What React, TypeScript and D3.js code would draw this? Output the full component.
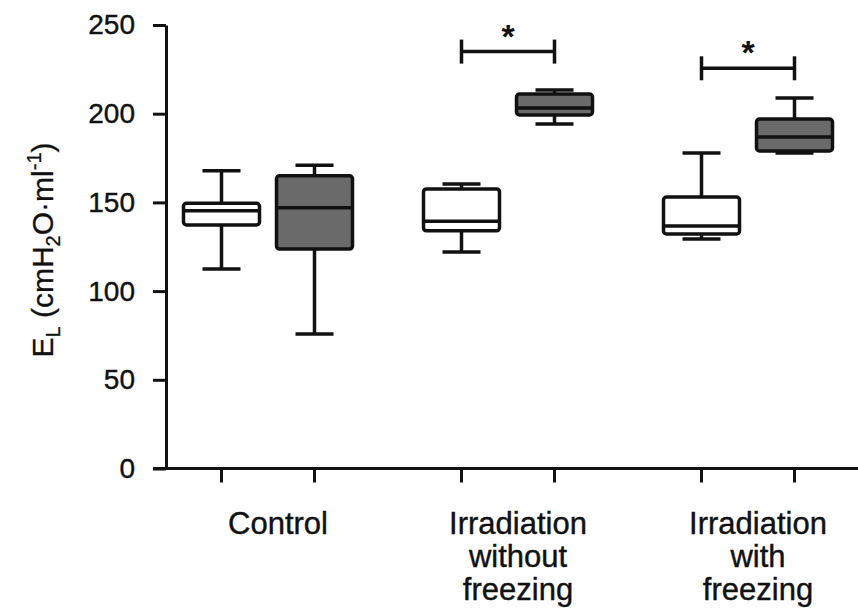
import * as d3 from "d3";
import { useEffect, useRef } from "react";

const GROUPS = ["Control", "Irradiation without freezing", "Irradiation with freezing"];
const GROUP_LINES = [["Control"], ["Irradiation", "without", "freezing"], ["Irradiation", "with", "freezing"]];
const SERIES = ["open", "filled"];

// [low whisker, q1, median, q3, high whisker]
const OPEN_STATS = [
	[112.5, 137.3, 145.3, 149.5, 167.9],
	[122, 134, 139.4, 157.6, 160.4],
	[129.4, 132.2, 136.7, 153, 177.8],
];
const FILLED_STATS = [
	[75.8, 123.7, 147, 165, 171],
	[194.2, 199.3, 203.2, 211.1, 213.4],
	[177.8, 179, 186.9, 197, 208.9],
];

const SIG_GROUPS = [1, 2];
const SIG_LEVELS = [235, 225.6];

const Y_TICKS = [0, 50, 100, 150, 200, 250];

const FILLS = ["#ffffff", "#6a6a6a"];
const INK = "#111";
const FONT = "'Liberation Sans', Arial, sans-serif";

const W = 858;
const H = 609;

const BoxChart = () => {
	const svgRef = useRef(null);

	useEffect(() => {
		const svg = d3.select(svgRef.current);
		svg.selectAll("*").remove();

		const x0 = d3.scaleBand().domain(GROUPS).range([148, 868]).padding(0);
		const x1 = d3.scalePoint().domain(SERIES).range([-46.5, 46.5]);
		const y = d3.scaleLinear().domain([0, 250]).range([468.5, 25]);

		const boxW = 76;
		const capW = 38;
		const cx = (gi, si) => x0(GROUPS[gi]) + x0.bandwidth() / 2 + x1(SERIES[si]);

		// Y axis
		const yAxis = d3
			.axisLeft(y)
			.tickValues(Y_TICKS)
			.tickSize(13)
			.tickSizeOuter(0)
			.tickPadding(18)
			.tickFormat(d3.format("d"));
		const yg = svg.append("g").attr("transform", "translate(166,0)").call(yAxis);
		yg.select(".domain").attr("stroke", INK).attr("stroke-width", 3);
		yg.selectAll("line").attr("stroke", INK).attr("stroke-width", 3);
		yg.selectAll("text")
			.attr("fill", INK)
			.attr("stroke", INK)
			.attr("stroke-width", 0.4)
			.attr("font-family", FONT)
			.attr("font-size", 28);

		// X axis line
		svg.append("line")
			.attr("x1", 153)
			.attr("x2", W)
			.attr("y1", y(0))
			.attr("y2", y(0))
			.attr("stroke", INK)
			.attr("stroke-width", 3);

		const allStats = [OPEN_STATS, FILLED_STATS];

		// X ticks under each box
		GROUPS.forEach((_, gi) => {
			SERIES.forEach((_, si) => {
				svg.append("line")
					.attr("x1", cx(gi, si))
					.attr("x2", cx(gi, si))
					.attr("y1", y(0))
					.attr("y2", y(0) + 14)
					.attr("stroke", INK)
					.attr("stroke-width", 3);
			});
		});

		// Boxes
		allStats.forEach((stats, si) => {
			stats.forEach(([lo, q1, med, q3, hi], gi) => {
				const c = cx(gi, si);
				const g = svg.append("g").attr("stroke", INK).attr("stroke-width", 3.5);
				g.append("line").attr("x1", c).attr("x2", c).attr("y1", y(hi)).attr("y2", y(q3));
				g.append("line").attr("x1", c).attr("x2", c).attr("y1", y(q1)).attr("y2", y(lo));
				g.append("line").attr("x1", c - capW / 2).attr("x2", c + capW / 2).attr("y1", y(hi)).attr("y2", y(hi));
				g.append("line").attr("x1", c - capW / 2).attr("x2", c + capW / 2).attr("y1", y(lo)).attr("y2", y(lo));
				g.append("rect")
					.attr("x", c - boxW / 2)
					.attr("y", y(q3))
					.attr("width", boxW)
					.attr("height", y(q1) - y(q3))
					.attr("rx", 3)
					.attr("fill", FILLS[si]);
				g.append("line")
					.attr("x1", c - boxW / 2)
					.attr("x2", c + boxW / 2)
					.attr("y1", y(med))
					.attr("y2", y(med));
			});
		});

		// Significance brackets
		SIG_GROUPS.forEach((gi, k) => {
			const xa = cx(gi, 0);
			const xb = cx(gi, 1);
			const yy = y(SIG_LEVELS[k]);
			const g = svg.append("g").attr("stroke", INK).attr("stroke-width", 3.5);
			g.append("line").attr("x1", xa).attr("x2", xb).attr("y1", yy).attr("y2", yy);
			g.append("line").attr("x1", xa).attr("x2", xa).attr("y1", yy - 12).attr("y2", yy + 12);
			g.append("line").attr("x1", xb).attr("x2", xb).attr("y1", yy - 12).attr("y2", yy + 12);
			svg.append("text")
				.attr("x", (xa + xb) / 2)
				.attr("y", yy - 4)
				.attr("text-anchor", "middle")
				.attr("font-family", FONT)
				.attr("font-weight", "bold")
				.attr("font-size", 34)
				.attr("fill", INK)
				.text("*");
		});

		// Group labels
		GROUP_LINES.forEach((lines, gi) => {
			const t = svg.append("text")
				.attr("text-anchor", "middle")
				.attr("font-family", FONT)
				.attr("font-size", 31)
				.attr("fill", INK)
				.attr("stroke", INK)
				.attr("stroke-width", 0.4);
			lines.forEach((ln, li) => {
				t.append("tspan")
					.attr("x", x0(GROUPS[gi]) + x0.bandwidth() / 2 + 10)
					.attr("y", 534 + li * 33)
					.text(ln);
			});
		});

		// Y axis title
		const yt = svg.append("text")
			.attr("transform", "translate(53,250) rotate(-90)")
			.attr("text-anchor", "middle")
			.attr("font-family", FONT)
			.attr("font-size", 30)
			.attr("fill", INK)
			.attr("stroke", INK)
			.attr("stroke-width", 0.3);
		yt.append("tspan").text("E");
		yt.append("tspan").attr("font-size", 20).attr("dy", 7).text("L");
		yt.append("tspan").attr("dy", -7).text(" (cmH");
		yt.append("tspan").attr("font-size", 20).attr("dy", 7).text("2");
		yt.append("tspan").attr("dy", -7).text("O·ml");
		yt.append("tspan").attr("font-size", 20).attr("dy", -12).text("-1");
		yt.append("tspan").attr("dy", 12).text(")");
	}, []);

	return (
		<svg
			ref={svgRef}
			width={W}
			height={H}
			style={{ position: "absolute", left: 0, top: 0, background: "#fff" }}
		/>
	);
};

export default function App() {
	return <BoxChart />;
}
